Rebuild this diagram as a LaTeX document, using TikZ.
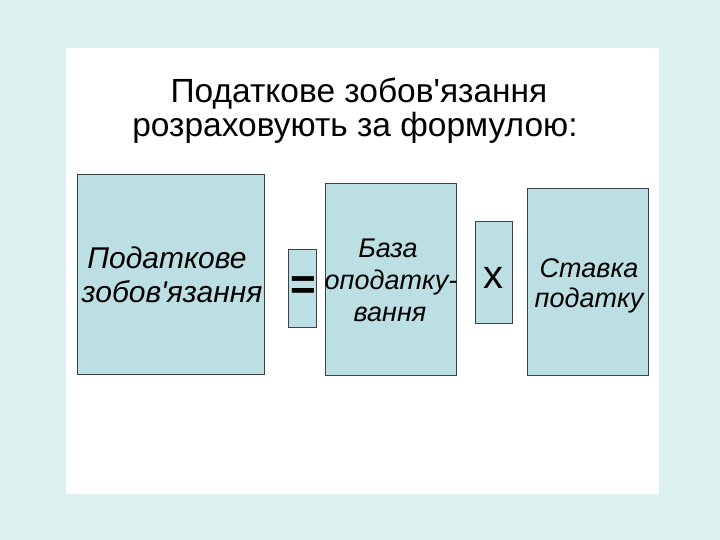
\documentclass[tikz,border=0pt]{standalone}
\usepackage{fontspec}
\setmainfont{Liberation Sans}[Ligatures=TeXOff]
\definecolor{bgcyan}{HTML}{DCF2F0}
\definecolor{boxfill}{HTML}{BCDFE3}
\definecolor{boxline}{HTML}{3A4448}
\begin{document}
\begin{tikzpicture}[x=1pt,y=-1pt,
  bx/.style={draw=boxline,line width=0.8pt,fill=boxfill},
  lbl/.style={font=\fontsize{#1}{#1}\selectfont\itshape,inner sep=0pt,anchor=base},
  lbl/.default=27,
  ttl/.style={font=\fontsize{33.5}{36}\selectfont,inner sep=0pt,anchor=base}]
\useasboundingbox (0,0) rectangle (720,540);
\fill[bgcyan] (0,0) rectangle (720,540);
\fill[white] (66,48) rectangle (659,494);
\node[ttl] (title1) at (359,103) {Податкове зобов'язання};
\node[ttl] (title2) at (355,137) {розраховують за формулою:};
\draw[bx] (77,174) rectangle (264,374);
\node[lbl=30] (obl1) at (167,268) {Податкове};
\node[lbl=30] (obl2) at (172,302) {зобов'язання};
\draw[bx] (288,249) rectangle (316,327);
\node[font=\fontsize{44}{44}\selectfont\bfseries,inner sep=0pt] (eq) at (303,288) {=};
\draw[bx] (325,183) rectangle (456,375);
\node[lbl] (base1) at (388,258) {База};
\node[lbl] (base2) at (391,289) {оподатку-};
\node[lbl] (base3) at (390,321) {вання};
\draw[bx] (475,221) rectangle (512,323);
\node[font=\fontsize{40}{40}\selectfont,inner sep=0pt] (mul) at (493,278) {x};
\draw[bx] (527,188) rectangle (648,375);
\node[lbl] (rate1) at (589,277) {Ставка};
\node[lbl] (rate2) at (589,307) {податку};
\end{tikzpicture}
\end{document}
